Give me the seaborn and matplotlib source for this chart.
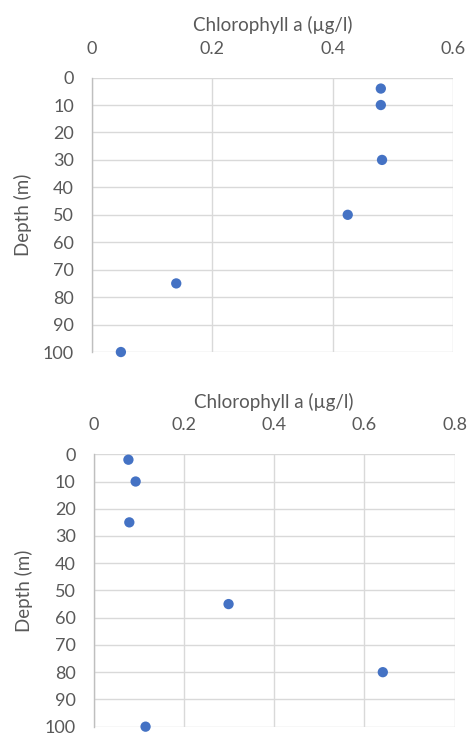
import matplotlib
matplotlib.use("Agg")
import matplotlib.pyplot as plt
import seaborn as sns
import pandas as pd

# Station 1 profile
depth_1 = [4, 10, 30, 50, 75, 100]
chl_1 = [0.48, 0.48, 0.482, 0.425, 0.14, 0.048]

# Station 2 profile
depth_2 = [2, 10, 25, 55, 80, 100]
chl_2 = [0.077, 0.093, 0.079, 0.299, 0.641, 0.115]

x_ticks_1 = [0, 0.2, 0.4, 0.6]
x_ticks_2 = [0, 0.2, 0.4, 0.6, 0.8]
depth_ticks = list(range(0, 101, 10))

sns.set_theme(style="white")
plt.rcParams["font.family"] = ["Lato", "DejaVu Sans"]

TEXT = "#595959"
GRID = "#d9d9d9"
DOT = "#4472C4"

fig = plt.figure(figsize=(4.68, 7.34), dpi=100)
ax1 = fig.add_axes([0.1966, 0.5204, 0.7714, 0.3739])
ax2 = fig.add_axes([0.2002, 0.0100, 0.7710, 0.3711])


def profile(ax, chl, depth, xticks):
    df = pd.DataFrame({"chl": chl, "depth": depth})
    sns.scatterplot(data=df, x="chl", y="depth", ax=ax, color=DOT,
                    s=55, edgecolor="none", zorder=3, clip_on=False)
    ax.set_xlim(xticks[0], xticks[-1])
    ax.set_ylim(100, 0)
    ax.set_xticks(xticks)
    ax.set_xticklabels(["0" if t == 0 else f"{t:g}" for t in xticks])
    ax.set_yticks(depth_ticks)
    ax.xaxis.tick_top()
    ax.xaxis.set_label_position("top")
    ax.set_xlabel("Chlorophyll a (µg/l)", fontsize=13.5, color=TEXT, labelpad=7)
    ax.set_ylabel("Depth (m)", fontsize=13.5, color=TEXT, labelpad=8)
    ax.tick_params(axis="x", length=0, pad=15, labelsize=13, labelcolor=TEXT)
    ax.tick_params(axis="y", length=0, pad=13, labelsize=13, labelcolor=TEXT)
    ax.grid(True, color=GRID, linewidth=1.0)
    ax.set_axisbelow(True)
    for side, sp in ax.spines.items():
        if side == "left":
            sp.set_color("#bfbfbf")
            sp.set_linewidth(1.0)
        else:
            sp.set_visible(False)


profile(ax1, chl_1, depth_1, x_ticks_1)
profile(ax2, chl_2, depth_2, x_ticks_2)

fig.savefig("out.png", dpi=100)
